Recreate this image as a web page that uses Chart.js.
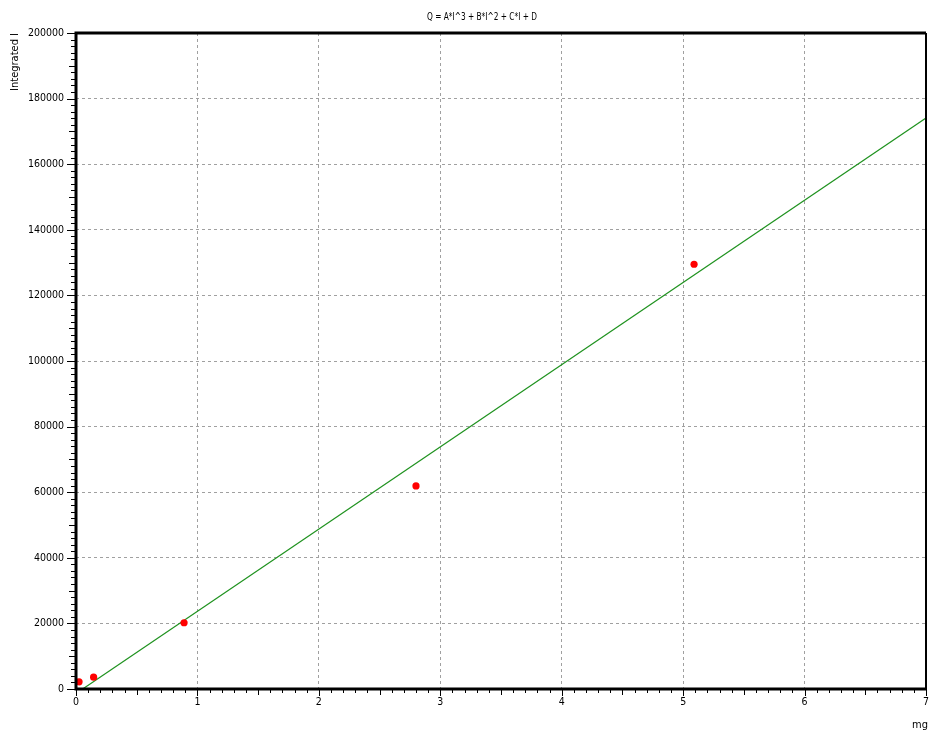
<!DOCTYPE html>
<html>
<head>
<meta charset="utf-8">
<script src="https://cdn.jsdelivr.net/npm/chart.js@4.4.1/dist/chart.umd.min.js"></script>
<style>
  body { margin: 0; background: #fff; }
  canvas { display: block; }
</style>
</head>
<body>
<canvas id="calib" width="930" height="733"></canvas>
<script>
// measured standards (mg vs integrated intensity)
const massMg = [0.025, 0.145, 0.89, 2.8, 5.09];
const intensity = [2200, 3600, 20200, 61900, 129500];
// calibration curve
const fitMg = [0.055, 7];
const fitIntensity = [0, 174100];

const xRange = [0, 7];
const yRange = [0, 200000];

const FONT = "'DejaVu Sans Condensed', 'Liberation Sans Narrow', sans-serif";

function isMajor(v, step) {
  const r = v / step;
  return Math.abs(r - Math.round(r)) < 1e-6;
}

// frame, tick marks and the loose texts
const framePlugin = {
  id: "frame",
  afterDraw(chart) {
    const ctx = chart.ctx;
    const a = chart.chartArea;
    const xs = chart.scales.x;
    const ys = chart.scales.y;
    ctx.save();
    ctx.strokeStyle = "#000";
    ctx.setLineDash([]);

    // tick marks
    ctx.lineWidth = 1;
    ctx.beginPath();
    for (let i = 0; i <= 70; i++) {
      const px = Math.round(xs.getPixelForValue(i / 10)) + 0.5;
      const len = i % 10 === 0 ? 7 : i % 5 === 0 ? 6 : 4;
      ctx.moveTo(px, a.bottom);
      ctx.lineTo(px, a.bottom + len);
    }
    for (let i = 0; i <= 100; i++) {
      const py = Math.round(ys.getPixelForValue(i * 2000)) + 0.5;
      const len = i % 10 === 0 ? 9 : i % 5 === 0 ? 7 : 5;
      ctx.moveTo(a.left, py);
      ctx.lineTo(a.left - len, py);
    }
    ctx.stroke();

    // frame
    ctx.lineWidth = 3;
    ctx.beginPath();
    ctx.moveTo(a.left, a.top);
    ctx.lineTo(a.right, a.top);
    ctx.moveTo(a.left, a.top - 1.5);
    ctx.lineTo(a.left, a.bottom + 1.5);
    ctx.moveTo(a.left - 1.5, a.bottom);
    ctx.lineTo(a.right + 1, a.bottom);
    ctx.stroke();
    ctx.lineWidth = 2;
    ctx.beginPath();
    ctx.moveTo(a.right, a.top);
    ctx.lineTo(a.right, a.bottom);
    ctx.stroke();

    // texts
    ctx.fillStyle = "#000";
    ctx.font = "11px " + FONT;
    ctx.textBaseline = "middle";

    // title is set tight in the original, squeeze it to the same width
    const title = "Q = A*I^3 + B*I^2 + C*I + D";
    const tw = ctx.measureText(title).width;
    ctx.save();
    ctx.translate(482, 17);
    ctx.scale(110 / tw, 1);
    ctx.textAlign = "center";
    ctx.fillText(title, 0, 0);
    ctx.restore();

    ctx.textAlign = "right";
    ctx.fillText("mg", 928, 725);

    ctx.translate(15, a.top);
    ctx.rotate(-Math.PI / 2);
    ctx.textAlign = "right";
    ctx.fillText("Integrated I", 0, 0);
    ctx.restore();
  }
};

new Chart(document.getElementById("calib"), {
  type: "scatter",
  data: {
    datasets: [
      {
        label: "Standards",
        data: massMg.map((m, i) => ({ x: m, y: intensity[i] })),
        backgroundColor: "#ff0000",
        borderColor: "#ff0000",
        pointRadius: 3.6,
        pointBorderWidth: 0
      },
      {
        label: "Fit",
        data: fitMg.map((m, i) => ({ x: m, y: fitIntensity[i] })),
        showLine: true,
        borderColor: "#1f921f",
        borderWidth: 1.2,
        pointRadius: 0
      }
    ]
  },
  options: {
    responsive: false,
    animation: false,
    layout: { padding: { top: 33, right: 3, left: 0, bottom: 0 } },
    plugins: {
      legend: { display: false },
      tooltip: { enabled: false }
    },
    scales: {
      x: {
        type: "linear",
        min: xRange[0],
        max: xRange[1],
        afterFit: (s) => { s.height = 44; s.paddingLeft = 0; s.paddingRight = 0; },
        grid: {
          drawTicks: false,
          color: (c) => (c.tick && isMajor(c.tick.value, 1) && c.tick.value > 0 && c.tick.value < 7 ? "#a0a0a0" : "transparent"),
          lineWidth: 1
        },
        border: { display: false, dash: [3, 3] },
        ticks: {
          stepSize: 0.1,
          autoSkip: false,
          maxRotation: 0,
          padding: 7,
          color: "#000",
          font: { family: FONT, size: 10.5 },
          callback: (v) => (isMajor(v, 1) ? String(Math.round(v)) : "")
        }
      },
      y: {
        type: "linear",
        min: yRange[0],
        max: yRange[1],
        afterFit: (s) => { s.width = 76; s.paddingTop = 0; s.paddingBottom = 0; },
        grid: {
          drawTicks: false,
          color: (c) => (c.tick && isMajor(c.tick.value, 20000) && c.tick.value > 0 && c.tick.value < 200000 ? "#a0a0a0" : "transparent"),
          lineWidth: 1
        },
        border: { display: false, dash: [3, 3] },
        ticks: {
          stepSize: 2000,
          autoSkip: false,
          padding: 12,
          color: "#000",
          font: { family: FONT, size: 10.5 },
          callback: (v) => (isMajor(v, 20000) ? String(Math.round(v)) : "")
        }
      }
    }
  },
  plugins: [framePlugin]
});
</script>
</body>
</html>
